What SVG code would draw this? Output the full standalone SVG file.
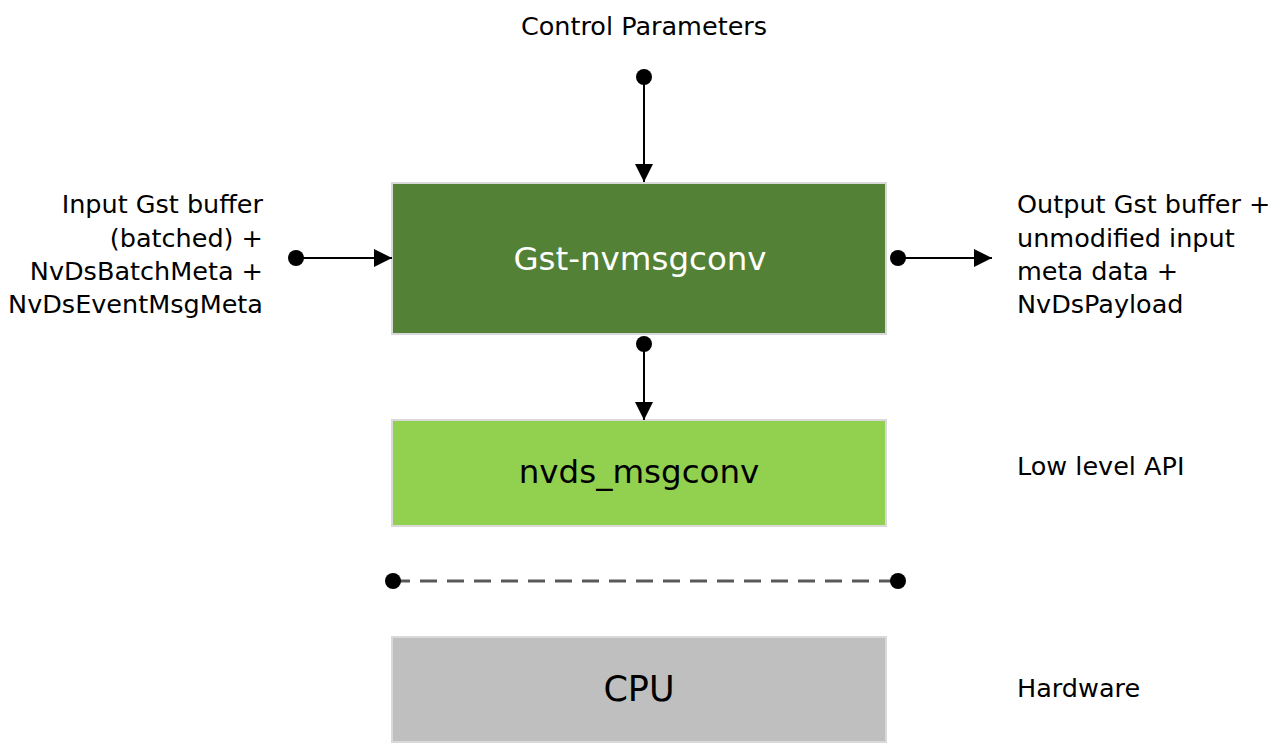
<svg xmlns="http://www.w3.org/2000/svg" width="1281" height="747" viewBox="0 0 1281 747">
<style>
text{font-family:"DejaVu Sans",sans-serif;fill:#000}
.lbl{font-size:25.5px}
.box{stroke:#d9d9d9;stroke-width:2}
.ln{stroke:#000;stroke-width:2;fill:none}
</style>
<defs>
<marker id="arr" viewBox="0 0 18 18" refX="18" refY="9" markerWidth="18" markerHeight="18" markerUnits="userSpaceOnUse" orient="auto">
<path d="M0,0 L18,9 L0,18 Z" fill="#000"/>
</marker>
</defs>
<rect width="1281" height="747" fill="#fff"/>
<g id="gst-nvmsgconv">
<rect class="box" x="392" y="183" width="494" height="151" fill="#538135"/>
<text x="640" y="270" font-size="32.5" text-anchor="middle" style="fill:#fff">Gst-nvmsgconv</text>
</g>
<g id="nvds_msgconv">
<rect class="box" x="392" y="420" width="494" height="106" fill="#92D050"/>
<text x="639" y="483" font-size="32.5" text-anchor="middle">nvds_msgconv</text>
</g>
<g id="cpu">
<rect class="box" x="392" y="637" width="494" height="105" fill="#BFBFBF"/>
<text x="639" y="701" font-size="35" text-anchor="middle">CPU</text>
</g>
<g id="labels">
<text class="lbl" x="644" y="35" text-anchor="middle">Control Parameters</text>
<text class="lbl" x="263" text-anchor="end"><tspan x="263" y="213">Input Gst buffer</tspan><tspan x="263" y="247">(batched) +</tspan><tspan x="263" y="280">NvDsBatchMeta +</tspan><tspan x="263" y="313">NvDsEventMsgMeta</tspan></text>
<text class="lbl" x="1017"><tspan x="1017" y="213">Output Gst buffer +</tspan><tspan x="1017" y="247">unmodified input</tspan><tspan x="1017" y="280">meta data +</tspan><tspan x="1017" y="313">NvDsPayload</tspan></text>
<text class="lbl" x="1017" y="475">Low level API</text>
<text class="lbl" x="1017" y="697">Hardware</text>
</g>
<g id="connectors">
<circle cx="644" cy="77" r="8"/>
<line class="ln" x1="644" y1="77" x2="644" y2="182" marker-end="url(#arr)"/>
<circle cx="296" cy="258" r="8"/>
<line class="ln" x1="296" y1="258" x2="392" y2="258" marker-end="url(#arr)"/>
<circle cx="898" cy="258" r="8"/>
<line class="ln" x1="898" y1="258" x2="992" y2="258" marker-end="url(#arr)"/>
<circle cx="644" cy="344" r="8"/>
<line class="ln" x1="644" y1="344" x2="644" y2="420" marker-end="url(#arr)"/>
<line x1="393" y1="581" x2="898" y2="581" stroke="#595959" stroke-width="3" stroke-dasharray="17,10"/>
<circle cx="393" cy="581" r="8"/>
<circle cx="898" cy="581" r="8"/>
</g>
</svg>
